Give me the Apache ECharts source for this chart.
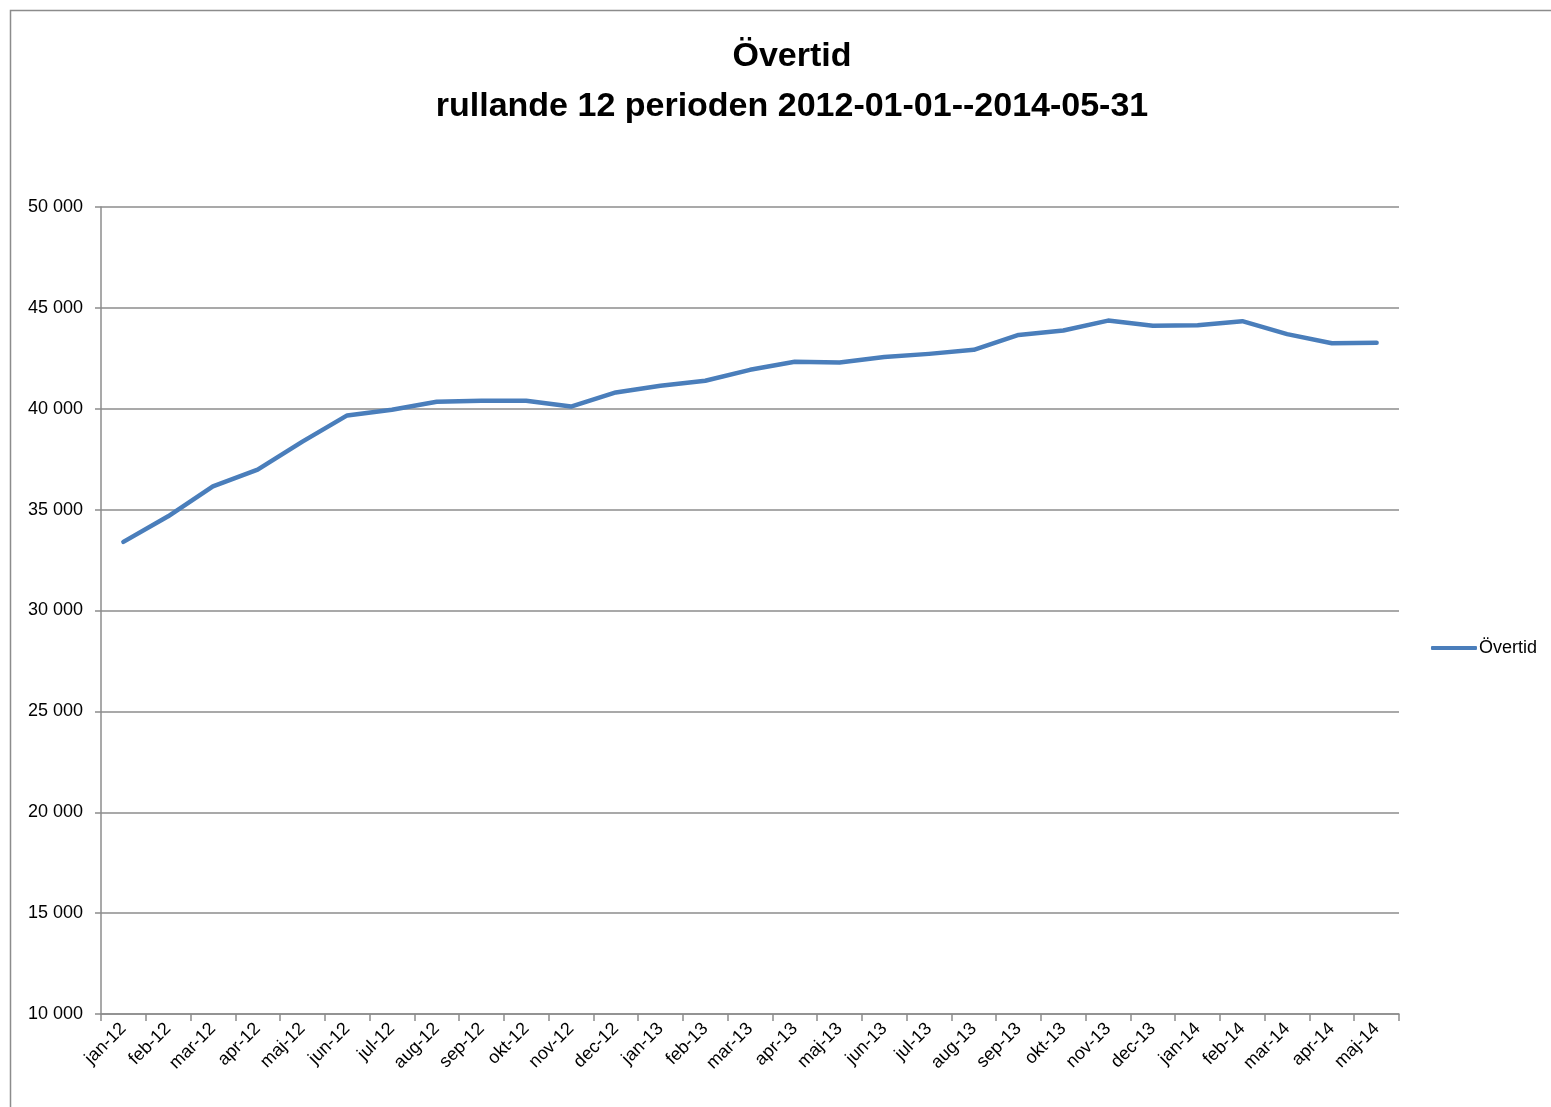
<!DOCTYPE html>
<html>
<head>
<meta charset="utf-8">
<title>Övertid</title>
<script src="https://cdn.jsdelivr.net/npm/echarts@6/dist/echarts.min.js"></script>
<style>
  html, body { margin: 0; padding: 0; background: #fff; }
  #chart { width: 1551px; height: 1107px; }
</style>
</head>
<body>
<div id="chart"></div>
<script>
// månader, rullande 12
const months = [
  'jan-12', 'feb-12', 'mar-12', 'apr-12', 'maj-12', 'jun-12', 'jul-12', 'aug-12',
  'sep-12', 'okt-12', 'nov-12', 'dec-12', 'jan-13', 'feb-13', 'mar-13', 'apr-13',
  'maj-13', 'jun-13', 'jul-13', 'aug-13', 'sep-13', 'okt-13', 'nov-13', 'dec-13',
  'jan-14', 'feb-14', 'mar-14', 'apr-14', 'maj-14'
];
const overtid = [
  33400, 34670, 36150, 36980, 38370, 39670, 39950, 40350,
  40400, 40400, 40110, 40810, 41140, 41390, 41930, 42330,
  42290, 42560, 42720, 42920, 43660, 43880, 44370, 44110,
  44140, 44340, 43700, 43250, 43270
];
const yTicks = { min: 10000, max: 50000, interval: 5000 };

const font = '"Liberation Sans", sans-serif';
const gray = '#8c8c8c';

const chart = echarts.init(document.getElementById('chart'));
chart.setOption({
  animation: false,
  textStyle: { fontFamily: font },
  graphic: [{
    type: 'rect',
    shape: { x: 10.5, y: 10.5, width: 1600, height: 1200 },
    style: { fill: 'none', stroke: gray, lineWidth: 1.5 },
    silent: true
  }],
  title: {
    text: 'Övertid\nrullande 12 perioden 2012-01-01--2014-05-31',
    left: 787,
    top: 27,
    textAlign: 'center',
    textStyle: {
      fontFamily: font,
      fontSize: 34,
      fontWeight: 'bold',
      color: '#000',
      lineHeight: 50
    }
  },
  legend: {
    right: 9,
    top: 634,
    itemWidth: 46,
    itemHeight: 4,
    itemGap: 0,
    textStyle: { fontFamily: font, fontSize: 18, color: '#000', padding: [0, 0, 0, -3] },
    data: [{ name: 'Övertid', icon: 'roundRect' }]
  },
  grid: { left: 101, right: 152, top: 207, bottom: 93, containLabel: false },
  xAxis: {
    type: 'category',
    data: months,
    boundaryGap: true,
    axisLine: { lineStyle: { color: gray, width: 1.5 } },
    axisTick: { show: true, length: 7, interval: 0, lineStyle: { color: gray, width: 1.5 } },
    axisLabel: {
      interval: 0,
      rotate: 45,
      margin: 12,
      fontFamily: font,
      fontSize: 18,
      color: '#000'
    }
  },
  yAxis: {
    type: 'value',
    min: yTicks.min,
    max: yTicks.max,
    interval: yTicks.interval,
    axisLine: { show: true, lineStyle: { color: gray, width: 1.5 } },
    axisTick: { show: true, length: 6, lineStyle: { color: gray, width: 1.5 } },
    splitLine: { lineStyle: { color: gray, width: 1.5 } },
    axisLabel: {
      margin: 18,
      fontFamily: font,
      fontSize: 18,
      color: '#000',
      formatter: v => String(v).replace(/\B(?=(\d{3})+(?!\d))/g, ' ')
    }
  },
  series: [{
    name: 'Övertid',
    type: 'line',
    data: overtid,
    symbol: 'none',
    lineStyle: { color: '#4a7ebb', width: 4.5, cap: 'round', join: 'round' },
    itemStyle: { color: '#4a7ebb' }
  }]
});
</script>
</body>
</html>
